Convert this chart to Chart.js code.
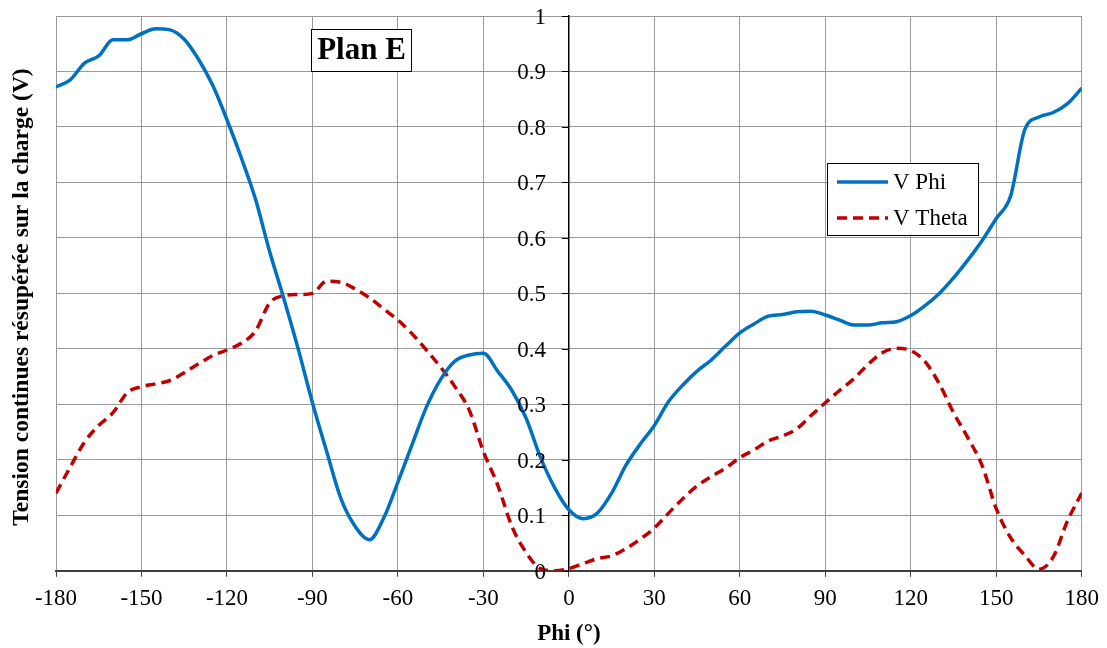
<!DOCTYPE html>
<html><head><meta charset="utf-8">
<script src="https://cdn.jsdelivr.net/npm/chart.js@4/dist/chart.umd.min.js"></script>
<style>html,body{margin:0;padding:0;background:#fff;}</style>
</head><body>
<canvas id="c" width="1107" height="648" style="display:block;width:1107px;height:648px"></canvas>
<script>
const phiAngles = [-180,-175,-170,-165,-160,-155,-150,-145,-140,-135,-130,-125,-120,-115,-110,-105,-100,-95,-90,-85,-80,-75,-70,-65,-60,-55,-50,-45,-40,-35,-30,-25,-20,-15,-10,-5,0,5,10,15,20,25,30,35,40,45,50,55,60,65,70,75,80,85,90,95,100,105,110,115,120,125,130,135,140,145,150,155,160,165,170,175,180];
const vPhi = [0.872,0.885,0.915,0.928,0.957,0.957,0.968,0.977,0.975,0.958,0.922,0.875,0.813,0.745,0.670,0.575,0.490,0.400,0.303,0.215,0.130,0.080,0.056,0.095,0.160,0.228,0.295,0.345,0.378,0.389,0.392,0.360,0.325,0.275,0.205,0.150,0.110,0.094,0.104,0.140,0.190,0.228,0.262,0.305,0.335,0.360,0.380,0.405,0.429,0.445,0.459,0.462,0.467,0.468,0.461,0.452,0.443,0.443,0.447,0.449,0.460,0.478,0.500,0.528,0.560,0.595,0.635,0.675,0.795,0.818,0.826,0.842,0.870];
const vTheta = [0.140,0.187,0.232,0.262,0.285,0.321,0.332,0.337,0.343,0.357,0.373,0.388,0.398,0.410,0.432,0.483,0.496,0.498,0.500,0.522,0.520,0.508,0.492,0.472,0.452,0.427,0.398,0.367,0.332,0.290,0.215,0.155,0.080,0.033,0.004,0.000,0.004,0.013,0.022,0.027,0.040,0.057,0.077,0.104,0.130,0.153,0.170,0.185,0.204,0.218,0.234,0.243,0.256,0.280,0.303,0.325,0.346,0.372,0.393,0.401,0.397,0.377,0.337,0.285,0.240,0.190,0.112,0.060,0.028,0.003,0.025,0.090,0.140];
const xTicks = [-180,-150,-120,-90,-60,-30,0,30,60,90,120,150,180];
const xTickLabels = ['-180','-150','-120','-90','-60','-30','0','30','60','90','120','150','180'];
const yTicks = [0,0.1,0.2,0.3,0.4,0.5,0.6,0.7,0.8,0.9,1];
const yTickLabels = ['0','0.1','0.2','0.3','0.4','0.5','0.6','0.7','0.8','0.9','1'];
const seriesNames = ['V Phi','V Theta'];
const xTitle = 'Phi (°)';
const yTitle = 'Tension continues résupérée sur la charge (V)';
const panelLabel = 'Plan E';

const SERIF = '"Liberation Serif", "Times New Roman", serif';

const extras = {
  id: 'extras',
  afterDraw(chart) {
    const ctx = chart.ctx;
    const area = chart.chartArea;
    const ys = chart.scales.y;
    const axisX = chart.scales.x.getPixelForValue(0);

    // y tick marks and labels (axis crosses at phi = 0)
    ctx.save();
    ctx.strokeStyle = '#000';
    ctx.lineWidth = 1;
    ctx.font = '23px ' + SERIF;
    ctx.fillStyle = '#000';
    ctx.textAlign = 'right';
    ctx.textBaseline = 'middle';
    yTicks.forEach((v, i) => {
      const py = Math.round(ys.getPixelForValue(v)) + 0.5;
      ctx.beginPath();
      ctx.moveTo(axisX - 7, py);
      ctx.lineTo(axisX, py);
      ctx.stroke();
      ctx.fillText(yTickLabels[i], axisX - 23, py + 1);
    });
    ctx.restore();

    // y title
    ctx.save();
    ctx.translate(22, 297);
    ctx.rotate(-Math.PI / 2);
    ctx.font = 'bold 23.5px ' + SERIF;
    ctx.fillStyle = '#000';
    ctx.textAlign = 'center';
    ctx.textBaseline = 'middle';
    ctx.fillText(yTitle, 0, 0);
    ctx.restore();

    // panel label box
    ctx.save();
    ctx.fillStyle = '#fff';
    ctx.fillRect(311.5, 29.5, 100, 42);
    ctx.strokeStyle = '#000';
    ctx.lineWidth = 1;
    ctx.strokeRect(311.5, 29.5, 100, 42);
    ctx.font = 'bold 31px ' + SERIF;
    ctx.fillStyle = '#000';
    ctx.textAlign = 'center';
    ctx.textBaseline = 'middle';
    ctx.fillText(panelLabel, 361.5, 51);
    ctx.restore();

    // legend
    ctx.save();
    ctx.fillStyle = '#fff';
    ctx.fillRect(827.5, 163.5, 151, 72);
    ctx.strokeStyle = '#000';
    ctx.lineWidth = 1;
    ctx.strokeRect(827.5, 163.5, 151, 72);
    const rows = [182, 218];
    chart.data.datasets.forEach((ds, i) => {
      const y = rows[i];
      ctx.beginPath();
      ctx.strokeStyle = ds.borderColor;
      ctx.lineWidth = ds.borderWidth;
      ctx.setLineDash(ds.borderDash || []);
      ctx.lineCap = 'butt';
      ctx.moveTo(837, y);
      ctx.lineTo(888, y);
      ctx.stroke();
      ctx.setLineDash([]);
      ctx.font = '23px ' + SERIF;
      ctx.fillStyle = '#000';
      ctx.textAlign = 'left';
      ctx.textBaseline = 'middle';
      ctx.fillText(ds.label, 893, y + 1);
    });
    ctx.restore();
  }
};

const chart = new Chart(document.getElementById('c'), {
  type: 'line',
  data: {
    datasets: [
      {
        label: seriesNames[0],
        data: phiAngles.map((a, i) => ({x: a, y: vPhi[i]})),
        borderColor: '#0070C0',
        borderWidth: 3.5,
        pointRadius: 0,
        fill: false,
        cubicInterpolationMode: 'monotone'
      },
      {
        label: seriesNames[1],
        data: phiAngles.map((a, i) => ({x: a, y: vTheta[i]})),
        borderColor: '#C00000',
        borderWidth: 3.5,
        borderDash: [10, 6],
        pointRadius: 0,
        fill: false,
        cubicInterpolationMode: 'monotone'
      }
    ]
  },
  options: {
    responsive: false,
    animation: false,
    devicePixelRatio: 1,
    layout: {padding: {left: 56, right: 24, top: 16, bottom: 0}},
    plugins: {legend: {display: false}, tooltip: {enabled: false}},
    scales: {
      x: {
        type: 'linear',
        min: -180, max: 180,
        afterBuildTicks: s => { s.ticks = xTicks.map(v => ({value: v})); },
        ticks: {
          autoSkip: false, maxRotation: 0, padding: 8, color: '#000',
          font: {family: SERIF, size: 23},
          callback: (v, i) => xTickLabels[i]
        },
        grid: {color: '#9a9a9a', lineWidth: 1, tickLength: 6, tickColor: '#404040'},
        border: {color: '#404040', width: 2},
        title: {display: true, text: xTitle, color: '#000', font: {family: SERIF, size: 23, weight: 'bold'}, padding: {top: 0, bottom: 0}}
      },
      y: {
        type: 'linear',
        position: {x: 0},
        min: 0, max: 1,
        afterBuildTicks: s => { s.ticks = yTicks.map(v => ({value: v})); },
        ticks: {display: false},
        grid: {color: '#9a9a9a', lineWidth: 1, drawTicks: false},
        border: {color: '#000', width: 1.5}
      }
    }
  },
  plugins: [extras]
});
</script>
</body></html>
